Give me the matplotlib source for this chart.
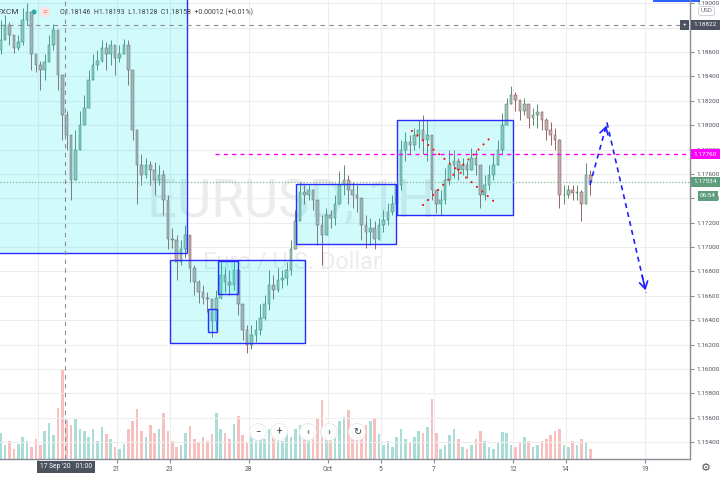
import numpy as np
import matplotlib
matplotlib.use('Agg')
import matplotlib.pyplot as plt
from matplotlib.patches import Rectangle, Ellipse

plt.rcParams['font.family'] = ['Roboto', 'DejaVu Sans']

# EURUSD, 4h bars, time in trading days from 17 Sep 2020 00:00
first_open = 1.1862
close = [
    1.1870, 1.1882, 1.1874, 1.1863, 1.1868, 1.1886, 1.1893, 1.1858, 1.1849, 1.1845,
    1.1852, 1.1866, 1.1878, 1.1841, 1.1808, 1.1792, 1.1755, 1.1780, 1.1800, 1.1814,
    1.1837, 1.1849, 1.1853, 1.1863, 1.1858, 1.1866, 1.1855, 1.1858, 1.1866, 1.1845,
    1.1796, 1.1767, 1.1759, 1.1767, 1.1763, 1.1755, 1.1759, 1.1739, 1.1707, 1.1706,
    1.1688, 1.1698, 1.1710, 1.1683, 1.1671, 1.1663, 1.1658, 1.1657, 1.1639, 1.1658,
    1.1677, 1.1671, 1.1669, 1.1681, 1.1653, 1.1632, 1.1620, 1.1628, 1.1632, 1.1642,
    1.1653, 1.1669, 1.1665, 1.1673, 1.1675, 1.1681, 1.1698, 1.1721, 1.1745, 1.1743,
    1.1747, 1.1739, 1.1718, 1.1710, 1.1726, 1.1724, 1.1735, 1.1751, 1.1755, 1.1747,
    1.1743, 1.1740, 1.1718, 1.1712, 1.1716, 1.1707, 1.1718, 1.1722, 1.1729, 1.1735,
    1.1751, 1.1780, 1.1786, 1.1784, 1.1792, 1.1796, 1.1788, 1.1792, 1.1747, 1.1735,
    1.1739, 1.1755, 1.1767, 1.1771, 1.1763, 1.1767, 1.1763, 1.1773, 1.1767, 1.1743,
    1.1751, 1.1759, 1.1767, 1.1780, 1.1800, 1.1817, 1.1825, 1.1821, 1.1812, 1.1817,
    1.1806, 1.1808, 1.1811, 1.1804, 1.1796, 1.1792, 1.1788, 1.1743, 1.1743, 1.1747,
    1.1744, 1.1745, 1.1735, 1.1759, 1.17534]
high = [
    1.1886, 1.1890, 1.1885, 1.1870, 1.1874, 1.1896, 1.1900, 1.1882, 1.1855, 1.1853,
    1.1858, 1.1874, 1.1883, 1.1862, 1.1833, 1.1812, 1.1780, 1.1796, 1.1812, 1.1825,
    1.1845, 1.1858, 1.1862, 1.1870, 1.1868, 1.1870, 1.1863, 1.1866, 1.1871, 1.1870,
    1.1833, 1.1796, 1.1776, 1.1773, 1.1771, 1.1770, 1.1767, 1.1763, 1.1743, 1.1716,
    1.1710, 1.1706, 1.1718, 1.1706, 1.1685, 1.1673, 1.1669, 1.1663, 1.1653, 1.1665,
    1.1688, 1.1683, 1.1681, 1.1688, 1.1685, 1.1653, 1.1636, 1.1636, 1.1640, 1.1653,
    1.1661, 1.1681, 1.1677, 1.1683, 1.1681, 1.1688, 1.1706, 1.1730, 1.1753, 1.1751,
    1.1751, 1.1748, 1.1739, 1.1726, 1.1732, 1.1730, 1.1743, 1.1762, 1.1767, 1.1759,
    1.1753, 1.1751, 1.1735, 1.1726, 1.1724, 1.1721, 1.1724, 1.1730, 1.1736, 1.1743,
    1.1759, 1.1788, 1.1794, 1.1792, 1.1798, 1.1804, 1.1808, 1.1804, 1.1792, 1.1747,
    1.1747, 1.1765, 1.1780, 1.1780, 1.1773, 1.1773, 1.1771, 1.1781, 1.1780, 1.1763,
    1.1759, 1.1767, 1.1776, 1.1788, 1.1810, 1.1822, 1.1832, 1.1827, 1.1821, 1.1822,
    1.1817, 1.1814, 1.1817, 1.1812, 1.1806, 1.1803, 1.1798, 1.1789, 1.1751, 1.1751,
    1.1751, 1.1751, 1.1747, 1.1769, 1.1763]
low = [
    1.1858, 1.1870, 1.1866, 1.1859, 1.1862, 1.1866, 1.1882, 1.1845, 1.1844, 1.1829,
    1.1837, 1.1853, 1.1862, 1.1829, 1.1788, 1.1780, 1.1739, 1.1759, 1.1788, 1.1804,
    1.1817, 1.1841, 1.1845, 1.1852, 1.1845, 1.1849, 1.1841, 1.1852, 1.1858, 1.1833,
    1.1788, 1.1735, 1.1751, 1.1757, 1.1751, 1.1743, 1.1751, 1.1726, 1.1698, 1.1699,
    1.1673, 1.1685, 1.1691, 1.1671, 1.1661, 1.1654, 1.1653, 1.1647, 1.1626, 1.1632,
    1.1657, 1.1663, 1.1661, 1.1665, 1.1644, 1.1624, 1.1613, 1.1616, 1.1622, 1.1628,
    1.1640, 1.1648, 1.1657, 1.1663, 1.1666, 1.1669, 1.1677, 1.1702, 1.1726, 1.1735,
    1.1739, 1.1730, 1.1702, 1.1685, 1.1714, 1.1716, 1.1718, 1.1739, 1.1743, 1.1735,
    1.1732, 1.1729, 1.1706, 1.1699, 1.1702, 1.1698, 1.1706, 1.1712, 1.1718, 1.1726,
    1.1730, 1.1747, 1.1771, 1.1776, 1.1780, 1.1781, 1.1776, 1.1771, 1.1739, 1.1728,
    1.1726, 1.1735, 1.1751, 1.1757, 1.1755, 1.1759, 1.1757, 1.1763, 1.1759, 1.1732,
    1.1739, 1.1747, 1.1755, 1.1771, 1.1776, 1.1806, 1.1817, 1.1812, 1.1804, 1.1808,
    1.1798, 1.1800, 1.1798, 1.1796, 1.1788, 1.1784, 1.1780, 1.1732, 1.1735, 1.1740,
    1.1739, 1.1739, 1.1721, 1.1735, 1.1743]
volume = [
    26, 14, 18, 10, 15, 22, 18, 12, 20, 14,
    28, 36, 24, 51, 89, 39, 34, 40, 30, 28,
    22, 30, 18, 32, 25, 20, 12, 10, 15, 30,
    38, 50, 28, 22, 34, 26, 30, 46, 28, 18,
    12, 14, 26, 33, 20, 16, 22, 18, 25, 46,
    30, 26, 20, 35, 43, 24, 16, 28, 18, 24,
    20, 30, 24, 28, 18, 26, 22, 30, 34, 22,
    18, 28, 40, 59, 35, 26, 30, 38, 42, 49,
    30, 22, 28, 34, 38, 40, 25, 14, 18, 12,
    22, 30, 20, 16, 22, 28, 26, 32, 60, 26,
    10, 14, 24, 30, 20, 12, 10, 14, 20, 28,
    18, 12, 10, 16, 27, 26, 14, 12, 16, 22,
    18, 12, 14, 18, 20, 24, 28, 30, 14, 12,
    18, 14, 20, 16, 10]
bar_start = -2.4
bar_step = 4 / 24

date_pos = [-1, 2, 4, 7, 10, 12, 14, 17, 19, 22]
date_labels = ['', '21', '23', '28', 'Oct', '5', '7', '12', '14', '19']
price_ticks = np.round(np.arange(1.154, 1.1901, 0.002), 3)

# drawings: (day from, day to, price low, price high)
zones = [(-3.0, 4.66, 1.16951, 1.1910),
         (4.02, 9.13, 1.16213, 1.16894),
         (5.45, 5.80, 1.16303, 1.16492),
         (5.83, 6.59, 1.16615, 1.16886),
         (8.79, 12.58, 1.17025, 1.17517),
         (12.61, 17.01, 1.17263, 1.18042)]
level_price = 1.17760
level_from = 5.72
cross_price = 1.18822
cross_day = 1 / 24
last_price = 1.17534
x_line_a = ([13.18, 16.40], [1.17952, 1.17353])
x_line_b = ([13.60, 16.21], [1.17345, 1.17911])
path_days = [19.92, 20.57, 22.05]
path_prices = [1.17509, 1.18018, 1.16623]

W, H = 720, 479
def fx(x): return x / W
def fy(y): return 1 - y / H

fig = plt.figure(figsize=(7.2, 4.79), dpi=100)
rect = [0, 20 / H, 690 / W, 459 / H]
vax = fig.add_axes(rect, zorder=0)
ax = fig.add_axes(rect, zorder=1)
ax.patch.set_alpha(0)
xlim = (-64 / 26.4, 626 / 26.4)
ylim = (1.15261, 1.19027)

t = bar_start + np.arange(len(close)) * bar_step
c = np.array(close)
o = np.r_[first_open, c[:-1]]
hi = np.maximum(np.array(high), np.maximum(o, c))
lo = np.minimum(np.array(low), np.minimum(o, c))
up = c >= o

# volume
vax.bar(t, volume, width=bar_step * 0.6, color=np.where(up, '#a9ddd5', '#f8bfbf'))
vax.set_xlim(xlim)
vax.set_ylim(0, max(volume) * 5.15)
vax.axis('off')

# candles
for m, edge, body in [(up, '#3d7a62', '#a9c2b7'), (~up, '#8a4a4a', '#bcb2b2')]:
    ax.vlines(t[m], lo[m], hi[m], color=edge, lw=0.6, zorder=2)
    ax.bar(t[m], (c - o)[m], bottom=o[m], width=bar_step * 0.6,
           color=body, edgecolor=edge, lw=0.35, zorder=2.1)

# watermark
ax.text(8.6, 1.1737, 'EURUSD, 1H', fontsize=38, color='#808080', alpha=0.15,
        ha='center', va='center', zorder=0.5)
ax.text(8.65, 1.16877, 'Euro / U.S. Dollar', fontsize=17, color='#808080',
        alpha=0.15, ha='center', va='center', zorder=0.5)

# zones
for d0, d1, p0, p1 in zones:
    ax.add_patch(Rectangle((d0, p0), d1 - d0, p1 - p0, fc='#00e5ee', alpha=0.18,
                           ec='none', zorder=3))
    ax.add_patch(Rectangle((d0, p0), d1 - d0, p1 - p0, fc='none', ec='#2b2bff',
                           lw=1, zorder=3.2))

# lines
ax.axhline(cross_price, color='#8a8d96', lw=0.8, ls=(0, (4, 4)), zorder=4)
ax.axvline(cross_day, color='#8a8d96', lw=0.8, ls=(0, (4, 4)), zorder=4)
ax.axhline(last_price, color='#7fb495', lw=0.9, ls=(0, (1, 1.5)), zorder=4)
ax.plot([level_from, xlim[1]], [level_price, level_price], color='#ff00ff',
        lw=1, ls=(0, (3, 3)), zorder=4)
for xs, ys in [x_line_a, x_line_b]:
    ax.plot(xs, ys, color='#ff1010', lw=1.6, ls=(0, (0.01, 3.2)),
            dash_capstyle='round', zorder=4)
ax.plot(path_days, path_prices, color='#1f1fff', lw=1.2, ls=(0, (3, 2.5)), zorder=4)
for k in (1, 2):
    x0, x1 = path_days[k - 1], path_days[k]
    y0, y1 = path_prices[k - 1], path_prices[k]
    ax.annotate('', xy=(x1, y1), xytext=(x1 - 0.12 * (x1 - x0), y1 - 0.12 * (y1 - y0)),
                arrowprops=dict(arrowstyle='->,head_length=0.5,head_width=0.3',
                                color='#1f1fff', lw=1.2), zorder=4)

# axes
ax.set_xlim(xlim)
ax.set_ylim(ylim)
ax.set_xticks(date_pos, date_labels)
ax.set_yticks(price_ticks, ['%.5f' % p for p in price_ticks])
ax.yaxis.tick_right()
ax.grid(True, color='#ededed', lw=0.8, zorder=0)
ax.set_axisbelow(True)
ax.tick_params(axis='y', length=3, pad=1.5, labelsize=4.6, colors='#8a8d96',
               labelcolor='#50535e')
ax.tick_params(axis='x', length=3, pad=2, labelsize=4.8, colors='#8a8d96',
               labelcolor='#50535e')
for s in ['top', 'left']:
    ax.spines[s].set_visible(False)
for s in ['right', 'bottom']:
    ax.spines[s].set_color('#8a8d96')
    ax.spines[s].set_linewidth(1)

# price axis tags (they cover the tick labels underneath, as in the terminal)
ytr = ax.get_yaxis_transform()
def tag(price, label, fc, xp=705.5, dy=0):
    ax.annotate(label, xy=(xp / 690, price), xycoords=ytr, xytext=(0, dy),
                textcoords='offset points', ha='center', va='center', fontsize=4.6,
                color='white', annotation_clip=False, zorder=10,
                bbox=dict(boxstyle='square,pad=0.4', fc=fc, ec='none'))

tag(cross_price, '1.18822', '#4c525e')
tag(cross_price, '+', '#4c525e', xp=684.5)
tag(level_price, '1.17760', '#ff00ff')
tag(last_price, '1.17534', '#5f9e7c')
tag(last_price, '06:54', '#5f9e7c', xp=708, dy=-10)

fig.text(fx(706.5), fy(11), 'USD', fontsize=4.6, color='#6a6d78', ha='center',
         va='center', bbox=dict(boxstyle='round,pad=0.3', fc='white', ec='#c9ccd3', lw=0.6))
fig.text(fx(66), fy(467), "17 Sep '20   01:00", fontsize=4.8, color='white',
         ha='center', va='center', bbox=dict(boxstyle='square,pad=0.4', fc='#4c525e', ec='none'))

# header
fig.text(fx(19), fy(12), 'FXCM', fontsize=6, color='#3c3f48', ha='right', va='center')
fig.add_artist(Ellipse((fx(34), fy(12)), 5 / W, 5 / H, fc='#26a69a', ec='none'))
fig.text(fx(45), fy(12), '=', fontsize=6, color='#ef5350', ha='center', va='center',
         bbox=dict(boxstyle='round,pad=0.25', fc='#fde0e0', ec='none'))
fig.text(fx(60), fy(12), 'O1.18146  H1.18193  L1.18128  C1.18158  +0.00012 (+0.01%)',
         fontsize=5, color='#3c3f48', ha='left', va='center')
fig.add_artist(Rectangle((fx(653), fy(2)), 47 / W, 2 / H, fc='#2962ff', ec='none'))

# chart navigation buttons
for xp, sym in [(258, '−'), (279, '+'), (308, '‹'), (329, '›'), (357, '↻')]:
    fig.add_artist(Ellipse((fx(xp), fy(432)), 17 / W, 17 / H, fc='white', ec='#e3e5ea',
                           lw=0.6, alpha=0.92, zorder=20))
    fig.text(fx(xp), fy(432), sym, fontsize=7, color='#3c3f48', ha='center',
             va='center', zorder=21)
fig.text(fx(706), fy(468), '⚙', fontsize=8, color='#50535e', ha='center', va='center',
         family='DejaVu Sans')

fig.savefig('out.png', dpi=100)
